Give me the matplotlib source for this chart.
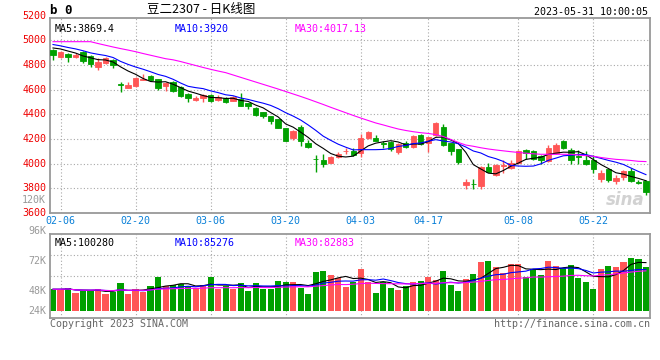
import numpy as np
import pandas as pd
import matplotlib
matplotlib.use('Agg')
import matplotlib.pyplot as plt
import matplotlib.transforms as mtransforms

# daily candles for 豆二2307, 2023-02-03 .. 2023-05-31
opens = [4922, 4867, 4887, 4862, 4903, 4873, 4781, 4814, 4841, 4642,
         4616, 4630, 4680, 4713, 4686, 4633, 4665, 4625, 4562, 4519,
         4530, 4557, 4516, 4530, 4511, 4524, 4489, 4454, 4416, 4386,
         4360, 4287, 4206, 4300, 4170, 4040, 4030, 4008, 4052, 4100,
         4105, 4089, 4206, 4206, 4170, 4178, 4097, 4165, 4133, 4232,
         4165, 4232, 4300, 4165, 4116, 3827, 3838, 3819, 3975, 3908,
         3985, 3962, 4003, 4111, 4103, 4062, 4022, 4084, 4186, 4111,
         4060, 4030, 4030, 3873, 3954, 3862, 3894, 3941, 3849, 3862]
highs = [4930, 4915, 4895, 4895, 4910, 4880, 4854, 4862, 4848, 4665,
         4665, 4705, 4727, 4720, 4690, 4660, 4670, 4630, 4570, 4545,
         4565, 4565, 4560, 4540, 4548, 4575, 4495, 4460, 4420, 4390,
         4365, 4290, 4270, 4314, 4192, 4070, 4076, 4062, 4097, 4125,
         4125, 4241, 4267, 4232, 4180, 4185, 4165, 4186, 4230, 4240,
         4220, 4340, 4322, 4170, 4120, 3876, 3876, 3980, 4003, 3995,
         4030, 4030, 4111, 4118, 4110, 4068, 4151, 4170, 4195, 4125,
         4111, 4105, 4070, 3949, 3960, 3908, 3945, 3962, 3868, 3866]
lows = [4841, 4860, 4827, 4855, 4814, 4786, 4759, 4810, 4773, 4584,
        4612, 4625, 4676, 4670, 4597, 4592, 4584, 4543, 4502, 4505,
        4502, 4498, 4505, 4490, 4505, 4465, 4441, 4390, 4373, 4322,
        4290, 4180, 4192, 4143, 4127, 3935, 3975, 4003, 4048, 4076,
        4060, 4057, 4200, 4180, 4127, 4105, 4076, 4130, 4125, 4150,
        4097, 4225, 4145, 4070, 3997, 3792, 3792, 3792, 3930, 3900,
        3922, 3955, 3998, 4038, 4030, 3997, 4015, 4078, 4120, 3997,
        3997, 3990, 3922, 3854, 3850, 3835, 3868, 3855, 3835, 3746]
closes = [4881, 4903, 4867, 4881, 4835, 4806, 4827, 4854, 4800, 4638,
          4638, 4692, 4686, 4676, 4616, 4652, 4589, 4551, 4535, 4530,
          4557, 4511, 4543, 4502, 4538, 4470, 4470, 4395, 4389, 4348,
          4292, 4186, 4265, 4184, 4138, 4036, 3997, 4057, 4076, 4105,
          4070, 4211, 4259, 4186, 4159, 4116, 4159, 4138, 4224, 4159,
          4214, 4332, 4151, 4105, 4016, 3854, 3835, 3975, 3935, 3989,
          3989, 4008, 4103, 4084, 4035, 4030, 4125, 4151, 4125, 4030,
          4057, 3997, 3954, 3927, 3868, 3886, 3941, 3862, 3846, 3773]
# closes of the 9 sessions before the window (for MA5/MA10 at the left edge)
prior_close = [5010, 5000, 4995, 4985, 4980, 4943, 4952, 4961, 4953]
# MA30
ma30 = [4989, 4989, 4989, 4989, 4989, 4989, 4974, 4960, 4946, 4933,
        4921, 4908, 4893, 4879, 4865, 4851, 4842, 4828, 4812, 4796,
        4780, 4765, 4751, 4738, 4719, 4700, 4681, 4662, 4643, 4624,
        4605, 4585, 4565, 4545, 4524, 4502, 4480, 4457, 4435, 4413,
        4391, 4370, 4350, 4330, 4314, 4297, 4281, 4269, 4259, 4251,
        4245, 4236, 4220, 4196, 4172, 4151, 4141, 4129, 4119, 4111,
        4104, 4097, 4091, 4085, 4080, 4076, 4076, 4076, 4076, 4076,
        4070, 4065, 4060, 4050, 4042, 4035, 4031, 4026, 4019, 4017]
# volume, thousands of lots
volumes = [45, 45, 47, 38, 41, 43, 46, 35, 39, 58,
           35, 46, 39, 52, 70, 51, 54, 55, 52, 47,
           54, 70, 46, 51, 46, 58, 42, 58, 46, 46,
           62, 59, 59, 48, 35, 81, 83, 75, 69, 50,
           59, 87, 61, 38, 59, 48, 43, 52, 61, 62,
           70, 64, 83, 54, 41, 66, 77, 101, 104, 91,
           79, 98, 98, 70, 87, 75, 104, 93, 89, 95,
           68, 60, 46, 87, 93, 91, 101, 110, 108, 91]

label_dates = ['02-06', '02-20', '03-06', '03-20', '04-03', '04-17', '05-08', '05-22']
label_sessions = [1, 11, 21, 31, 41, 50, 62, 72]
price_ticks = [3600, 3800, 4000, 4200, 4400, 4600, 4800, 5000, 5200]
vol_labels = ['96K', '72K', '48K', '24K']
vol_label_pos = [1.036, 0.679, 0.321, 0.083]   # axes fraction

RED = '#ff5656'
GREEN = '#00a000'
GRID = '#a8a8a8'
MONO = 'DejaVu Sans Mono'
FS = 7.2
LW = 0.8

o = np.array(opens); c = np.array(closes)
h = np.array(highs); l = np.array(lows)
n = len(c)
x = np.arange(n)
cols = [RED if cc > oo else GREEN for oo, cc in zip(o, c)]

allc = pd.Series(prior_close + closes)
ma5 = allc.rolling(5).mean().to_numpy()[len(prior_close):]
ma10 = allc.rolling(10).mean().to_numpy()[len(prior_close):]
vol = pd.Series(volumes)
vma5 = vol.rolling(5, min_periods=1).mean()
vma10 = vol.rolling(10, min_periods=1).mean()
vma30 = vol.rolling(30, min_periods=1).mean()

W, H = 660, 360
fig = plt.figure(figsize=(6.6, 3.6), dpi=100)
fig.patch.set_facecolor('white')
ax = fig.add_axes([50 / W, 1 - 213 / H, 600 / W, 195 / H])
axv = fig.add_axes([50 / W, 1 - 318 / H, 600 / W, 84 / H])

xlim = (-0.4, 79.54)
for a in (ax, axv):
    a.set_xlim(*xlim)
    a.set_xticks([]); a.set_yticks([])
    for s in a.spines.values():
        s.set_color('#999999'); s.set_linewidth(1.3)
    for s in label_sessions:
        a.axvline(s, color=GRID, lw=0.8, ls=(0, (1, 2)), zorder=0)

# ---- price panel
ax.set_ylim(3600, 5181)
for p in price_ticks[1:-1]:
    ax.axhline(p, color=GRID, lw=0.8, ls=(0, (1, 2)), zorder=0)
ax.vlines(x, l, h, colors=cols, lw=1, zorder=2)
ax.bar(x, np.maximum(np.abs(c - o), 1), bottom=np.minimum(o, c), width=0.72,
       color=cols, edgecolor=cols, linewidth=0.6, zorder=3)
ax.plot(x, ma5, color='black', lw=LW, zorder=4)
ax.plot(x, ma10, color='#0000ff', lw=LW, zorder=4)
ax.plot(x, ma30, color='#ff00ff', lw=LW, zorder=4)

tr = mtransforms.blended_transform_factory(ax.transAxes, ax.transData)
for p in price_ticks:
    ax.text(-0.006, p, str(p), transform=tr, ha='right', va='center',
            color='#ee0000', family=MONO, fontsize=FS, clip_on=False)

ax.text(0.008, 0.97, 'MA5:3869.4', transform=ax.transAxes, va='top',
        family=MONO, fontsize=FS, color='black')
ax.text(0.208, 0.97, 'MA10:3920', transform=ax.transAxes, va='top',
        family=MONO, fontsize=FS, color='#0000ff')
ax.text(0.408, 0.97, 'MA30:4017.13', transform=ax.transAxes, va='top',
        family=MONO, fontsize=FS, color='#ff00ff')
ax.text(0.958, 0.065, 'sina', transform=ax.transAxes, ha='center', va='center',
        fontsize=12, fontweight='bold', fontstyle='italic', color='#d2d2d2', zorder=1)

# ---- volume panel
vlo, vhi = -14.5, 159.4
axv.set_ylim(vlo, vhi)
for f in (0.5, 0.75):
    axv.axhline(vlo + f * (vhi - vlo), color=GRID, lw=0.8, ls=(0, (1, 2)), zorder=0)
axv.bar(x, volumes, width=0.82, color=cols, zorder=2)
axv.plot(x, vma5, color='black', lw=LW, zorder=3)
axv.plot(x, vma10, color='#0000ff', lw=LW, zorder=3)
axv.plot(x, vma30, color='#ff00ff', lw=LW, zorder=3)
for t, f in zip(vol_labels, vol_label_pos):
    axv.text(-0.006, f, t, transform=axv.transAxes, ha='right', va='center',
             color='#999999', family=MONO, fontsize=FS, clip_on=False)
axv.text(0.008, 0.95, 'MA5:100280', transform=axv.transAxes, va='top',
         family=MONO, fontsize=FS, color='black')
axv.text(0.208, 0.95, 'MA10:85276', transform=axv.transAxes, va='top',
         family=MONO, fontsize=FS, color='#0000ff')
axv.text(0.408, 0.95, 'MA30:82883', transform=axv.transAxes, va='top',
         family=MONO, fontsize=FS, color='#ff00ff')

# ---- date labels between panels
trd = mtransforms.blended_transform_factory(ax.transData, fig.transFigure)
for s, d in zip(label_sessions, label_dates):
    fig.text(s, 1 - 221.5 / H, d, transform=trd, ha='center', va='center',
             color='#0a80d8', family=MONO, fontsize=FS)

# ---- header / footer
fig.text(50 / W, 1 - 10 / H, 'b 0', ha='left', va='center', family=MONO,
         fontsize=9, fontweight='bold')
fig.text(201 / W, 1 - 10 / H, '豆二2307 - 日K线图', ha='center', va='center',
         family=['Noto Sans CJK SC', 'DejaVu Sans'], fontsize=9)
fig.text(648 / W, 1 - 12 / H, '2023-05-31 10:00:05', ha='right', va='center',
         family=MONO, fontsize=FS)
fig.text(46 / W, 1 - 200 / H, '120K', ha='right', va='center', family=MONO,
         fontsize=FS, color='#999999')
fig.text(50 / W, 1 - 324 / H, 'Copyright 2023 SINA.COM', ha='left', va='center',
         family=MONO, fontsize=FS, color='#666666')
fig.text(650 / W, 1 - 324 / H, 'http://finance.sina.com.cn', ha='right', va='center',
         family=MONO, fontsize=FS, color='#666666')

fig.savefig('out.png', dpi=100)
